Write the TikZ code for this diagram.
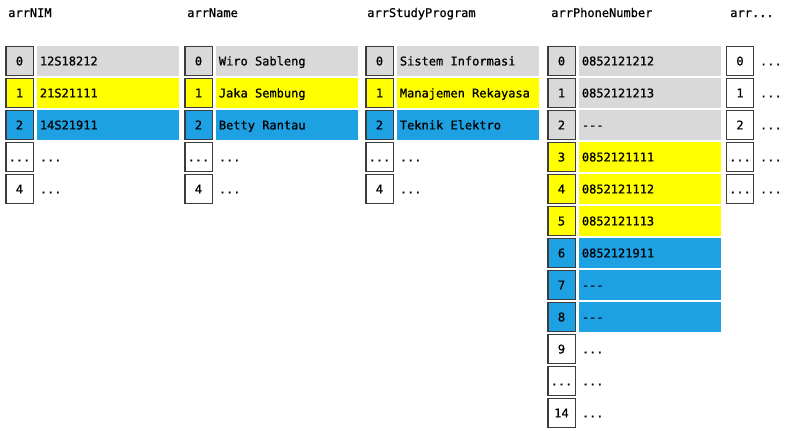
\documentclass[tikz,border=0pt]{standalone}
\usepackage{fontspec}
\setmonofont{DejaVu Sans Mono}[WordSpace={1,0,0}, FakeBold=0.8]
\usetikzlibrary{positioning}

\definecolor{cellgray}{RGB}{217,217,217}
\definecolor{cellyellow}{RGB}{255,255,0}
\definecolor{cellblue}{RGB}{29,161,226}
\definecolor{idxborder}{RGB}{60,60,60}

\newcommand{\ddd}{...}
\newcommand{\nodash}{-{}-{}-}

\tikzset{
  arrtitle/.style={anchor=base west, inner sep=0pt, font=\ttfamily\fontsize{9}{10}\selectfont},
  idxbox/.style={draw=idxborder, line width=1.1pt, minimum width=20.6pt, minimum height=21.4pt,
    inner sep=0pt, text height=6.6pt, text depth=0pt, font=\ttfamily\fontsize{9}{10}\selectfont},
  valcell/.style={anchor=west, inner xsep=2.25pt, inner ysep=0pt, minimum width=106.5pt,
    minimum height=22.5pt, text height=6.6pt, text depth=0pt, font=\ttfamily\fontsize{9}{10}\selectfont},
  dotcell/.style={anchor=west, inner sep=0pt, text height=6.6pt, text depth=0pt,
    font=\ttfamily\fontsize{9}{10}\selectfont}
}

\begin{document}
\begin{tikzpicture}[x=0.75pt, y=-0.75pt]
\useasboundingbox (0,0) rectangle (789,430);

% column titles
\node[arrtitle] (nim-title) at (8,17) {arrNIM};
\node[arrtitle] (name-title) at (187,17) {arrName};
\node[arrtitle] (prog-title) at (367,17) {arrStudyProgram};
\node[arrtitle] (phone-title) at (551,17) {arrPhoneNumber};
\node[arrtitle] (more-title) at (730,17) {arr...};

% arrNIM
\foreach \i/\v/\c [count=\row from 0] in {0/12S18212/cellgray, 1/21S21111/cellyellow,
    2/14S21911/cellblue, \ddd/\ddd/white, 4/\ddd/white} {
  \node[idxbox, fill=\c] (nim-idx-\row) at (19.5, 61+32*\row) {\i};
  \node[valcell, fill=\c, right=2pt of nim-idx-\row] (nim-val-\row) {\makebox[102pt][l]{\v}};
}

% arrName
\foreach \i/\v/\c [count=\row from 0] in {0/Wiro Sableng/cellgray, 1/Jaka Sembung/cellyellow,
    2/Betty Rantau/cellblue, \ddd/\ddd/white, 4/\ddd/white} {
  \node[idxbox, fill=\c] (name-idx-\row) at (198.5, 61+32*\row) {\i};
  \node[valcell, fill=\c, right=2pt of name-idx-\row] (name-val-\row) {\makebox[102pt][l]{\v}};
}

% arrStudyProgram
\foreach \i/\v/\c [count=\row from 0] in {0/Sistem Informasi/cellgray, 1/Manajemen Rekayasa/cellyellow,
    2/Teknik Elektro/cellblue, \ddd/\ddd/white, 4/\ddd/white} {
  \node[idxbox, fill=\c] (prog-idx-\row) at (379.5, 61+32*\row) {\i};
  \node[valcell, fill=\c, right=2pt of prog-idx-\row] (prog-val-\row) {\makebox[102pt][l]{\v}};
}

% arrPhoneNumber
\foreach \i/\v/\c [count=\row from 0] in {0/0852121212/cellgray, 1/0852121213/cellgray,
    2/\nodash/cellgray, 3/0852121111/cellyellow, 4/0852121112/cellyellow,
    5/0852121113/cellyellow, 6/0852121911/cellblue, 7/\nodash/cellblue, 8/\nodash/cellblue,
    9/\ddd/white, \ddd/\ddd/white, 14/\ddd/white} {
  \node[idxbox, fill=\c] (phone-idx-\row) at (561.5, 61+32*\row) {\i};
  \node[valcell, fill=\c, right=2pt of phone-idx-\row] (phone-val-\row) {\makebox[102pt][l]{\v}};
}

% arr...
\foreach \i [count=\row from 0] in {0, 1, 2, \ddd, \ddd} {
  \node[idxbox, fill=white] (more-idx-\row) at (740, 61+32*\row) {\i};
  \node[dotcell, right=4pt of more-idx-\row] (more-val-\row) {\ddd};
}
\end{tikzpicture}
\end{document}
